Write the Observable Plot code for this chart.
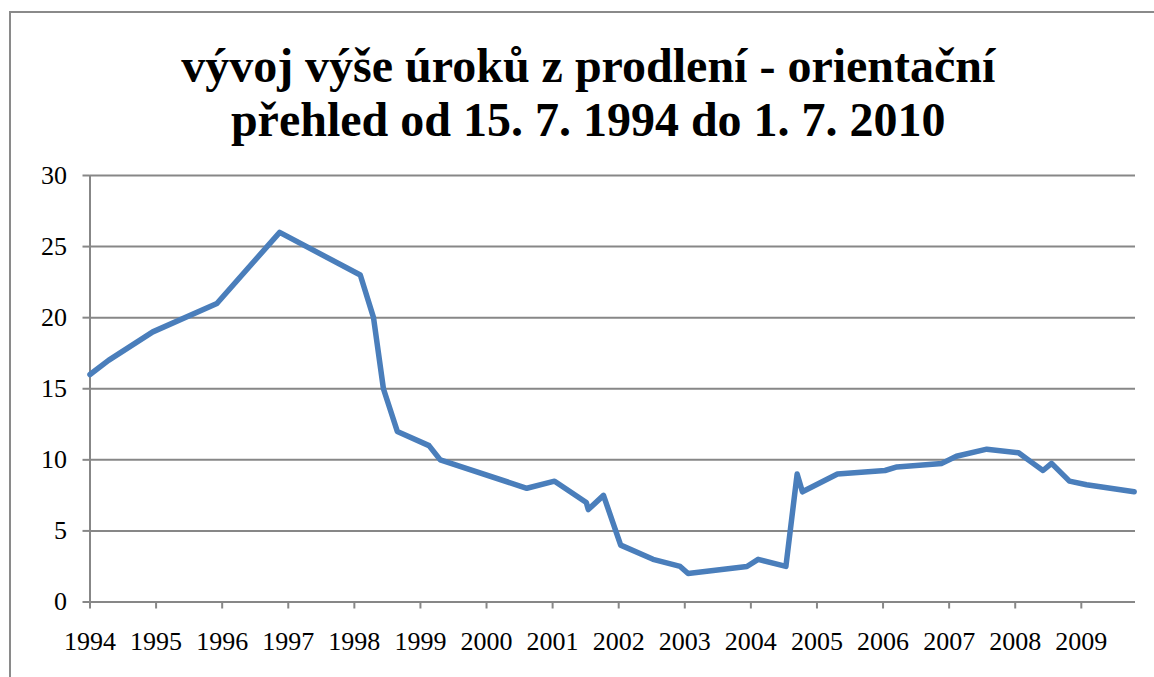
<!DOCTYPE html>
<html>
<head>
<meta charset="utf-8">
<script src="https://cdn.jsdelivr.net/npm/d3@7"></script>
<script src="https://cdn.jsdelivr.net/npm/@observablehq/plot@0.6"></script>
<style>
  html, body { margin: 0; padding: 0; background: #fff; overflow: hidden; }
  #wrap { position: relative; width: 1154px; height: 677px; }
  #border { position: absolute; left: 9px; top: 11px; width: 1300px; height: 800px;
            border: 2px solid #8a8a8a; box-sizing: border-box; pointer-events: none; }
</style>
</head>
<body>
<div id="wrap"><div id="border"></div></div>
<script>
// Axis-year position (as drawn on the chart's year axis) and default interest rate in %
const years = [1994.0, 1994.28, 1994.95, 1995.92, 1996.87, 1998.09, 1998.29, 1998.44, 1998.65, 1999.13,
  1999.30, 2000.61, 2001.03, 2001.51, 2001.54, 2001.77, 2002.03, 2002.52, 2002.93, 2003.05,
  2003.94, 2004.11, 2004.53, 2004.70, 2004.78, 2005.31, 2006.03, 2006.21, 2006.89, 2007.11,
  2007.57, 2008.05, 2008.27, 2008.42, 2008.55, 2008.82, 2009.08, 2009.80];
const rates = [16, 17, 19, 21, 26, 23, 20, 15, 12, 11,
  10, 8, 8.5, 7, 6.5, 7.5, 4, 3, 2.5, 2,
  2.5, 3, 2.5, 9, 7.75, 9, 9.25, 9.5, 9.75, 10.25,
  10.75, 10.5, 9.75, 9.25, 9.75, 8.5, 8.25, 7.75];
const yTicks = [0, 5, 10, 15, 20, 25, 30];
const xTicks = [1994, 1995, 1996, 1997, 1998, 1999, 2000, 2001, 2002, 2003, 2004, 2005, 2006, 2007, 2008, 2009];
const titleLine1 = "vývoj výše úroků z prodlení - orientační";
const titleLine2 = "přehled od 15. 7. 1994 do 1. 7. 2010";

const data = years.map((x, i) => ({x, y: rates[i]}));
const serif = "'Liberation Serif', 'Times New Roman', serif";
const gray = "#878787";

const chart = Plot.plot({
  width: 1154,
  height: 677,
  marginLeft: 89.5,
  marginRight: 19,
  marginTop: 175,
  marginBottom: 75.5,
  style: {fontFamily: serif, background: "transparent", overflow: "visible"},
  x: {domain: [1994, 2009.82]},
  y: {domain: [0, 30]},
  marks: [
    Plot.gridY(yTicks, {stroke: gray, strokeOpacity: 1, strokeWidth: 2}),
    Plot.axisY(yTicks, {tickSize: 7, tickPadding: 16, stroke: gray, strokeWidth: 2, fontSize: 26, fill: "#000", label: null}),
    Plot.axisX(xTicks, {tickSize: 7, tickPadding: 23, stroke: gray, strokeWidth: 2, fontSize: 26, fill: "#000", label: null, tickFormat: d => String(d)}),
    Plot.ruleX([1994], {stroke: gray, strokeWidth: 2}),
    Plot.ruleY([0], {stroke: gray, strokeWidth: 2}),
    Plot.line(data, {x: "x", y: "y", stroke: "#4a7ebb", strokeWidth: 5.5, strokeLinejoin: "round", strokeLinecap: "round"}),
    Plot.text([titleLine1], {frameAnchor: "top", dx: -24.5, dy: -128, fontSize: 48, fontWeight: "bold", fill: "#000"}),
    Plot.text([titleLine2], {frameAnchor: "top", dx: -24.5, dy: -74, fontSize: 48, fontWeight: "bold", fill: "#000"})
  ]
});
document.getElementById("wrap").insertBefore(chart, document.getElementById("border"));
</script>
</body>
</html>
